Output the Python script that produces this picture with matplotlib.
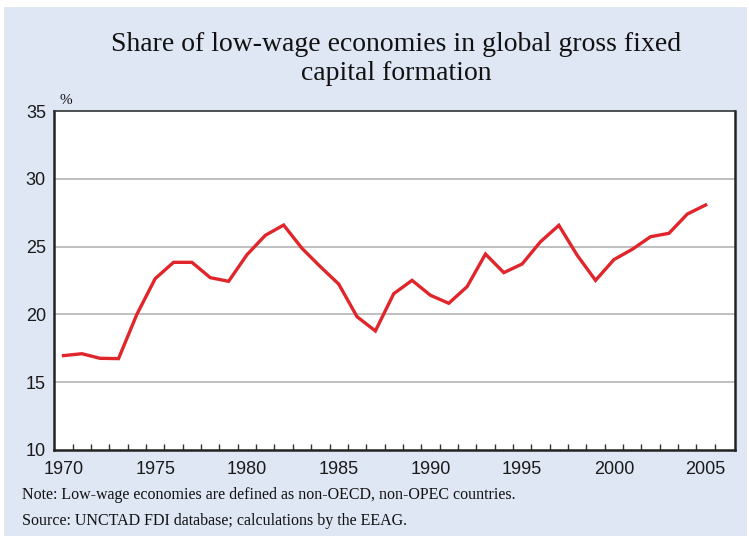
import matplotlib
matplotlib.use("Agg")
import matplotlib.pyplot as plt
from matplotlib.patches import Rectangle

years = list(range(1970, 2006))
share = [16.96, 17.1, 16.76, 16.74, 20.0, 22.64, 23.84, 23.84, 22.71, 22.44,
         24.4, 25.83, 26.59, 24.87, 23.52, 22.24, 19.83, 18.78, 21.53, 22.51,
         21.41, 20.82, 22.05, 24.45, 23.08, 23.72, 25.36, 26.57, 24.36, 22.51,
         24.04, 24.8, 25.73, 25.98, 27.4, 28.07]
xtick_labels = [1970, 1975, 1980, 1985, 1990, 1995, 2000, 2005]
yticks = [10, 15, 20, 25, 30, 35]

title_lines = ["Share of low-wage economies in global gross fixed", "capital formation"]
note = "Note: Low-wage economies are defined as non-OECD, non-OPEC countries."
source = "Source: UNCTAD FDI database; calculations by the EEAG."

W, H = 749, 536
bg = "#dfe7f4"
fig = plt.figure(figsize=(W / 100, H / 100), dpi=100)
fig.patch.set_facecolor("white")
fig.patches.append(Rectangle((4 / W, 0), (747 - 4) / W, 1 - 7 / H,
                             transform=fig.transFigure, facecolor=bg,
                             edgecolor="none", zorder=-10))

ax = fig.add_axes([54.3 / W, 1 - 450 / H, (735 - 54.3) / W, (450 - 111) / H])
ax.set_facecolor("white")
ax.plot(years, share, color="#e0262b", lw=2.4, solid_joinstyle="miter", zorder=3)
ax.set_xlim(1969.5, 2006.6)
ax.set_ylim(10, 35)

ax.set_yticks(yticks)
ax.set_yticklabels([str(v) for v in yticks], fontsize=13, family="Liberation Sans", color="#1a1a1a")
ax.set_xticks(xtick_labels)
ax.set_xticklabels([str(v) for v in xtick_labels], fontsize=13, family="Liberation Sans", color="#1a1a1a")
ax.tick_params(axis="x", length=0, pad=8)
ax.set_xticks([y + 0.5 for y in range(1970, 2006)], minor=True)
ax.tick_params(axis="x", which="minor", direction="in", length=4.5, width=1, color="#333333")
ax.tick_params(axis="y", length=0, pad=6)

for v in [15, 20, 25, 30]:
    ax.axhline(v, color="#b4b4b4", lw=1.2, zorder=1)

for s in ["left", "bottom", "right"]:
    ax.spines[s].set_color("#222222")
    ax.spines[s].set_linewidth(1.8)
ax.spines["top"].set_color("#333333")
ax.spines["top"].set_linewidth(1.2)

for txt, base in zip(title_lines, [51, 80]):
    fig.text(396 / W, 1 - base / H, txt, ha="center", va="baseline", fontsize=20,
             family="Liberation Serif", color="#111111")
fig.text(60 / W, 1 - 104 / H, "%", ha="left", va="baseline", fontsize=11,
         family="Liberation Serif", color="#111111")
fig.text(22 / W, 1 - 499 / H, note, ha="left", va="baseline", fontsize=11.5,
         family="Liberation Serif", color="#111111")
fig.text(22 / W, 1 - 525 / H, source, ha="left", va="baseline", fontsize=11.5,
         family="Liberation Serif", color="#111111")

fig.savefig("out.png", dpi=100, facecolor=fig.get_facecolor())
